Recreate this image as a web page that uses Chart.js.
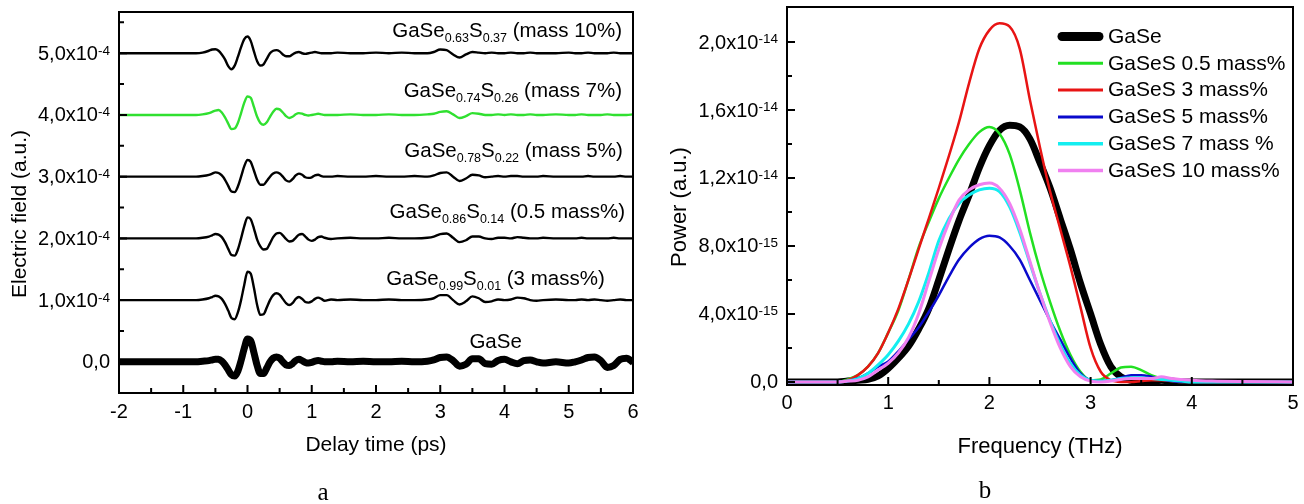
<!DOCTYPE html>
<html>
<head>
<meta charset="utf-8">
<script src="https://cdn.jsdelivr.net/npm/chart.js@4.4.1/dist/chart.umd.min.js"></script>
<style>
  html, body { margin: 0; padding: 0; background: #fff; }
  #wrap { position: relative; width: 1304px; height: 504px; }
  .panel { position: absolute; top: 0; height: 504px; }
  #left { left: 0; width: 650px; }
  #right { left: 650px; width: 654px; }
</style>
</head>
<body>
<div id="wrap">
  <div class="panel" id="left"><canvas id="timeChart" width="650" height="504"></canvas></div>
  <div class="panel" id="right"><canvas id="specChart" width="654" height="504"></canvas></div>
</div>
<script>
// ---------- panel a: time-domain waveforms (values in 1e-4 a.u.) ----------
const T = [-2, -1.5, -1, -0.8, -0.7,
  -0.6, -0.55, -0.5, -0.45, -0.4, -0.35, -0.3, -0.25, -0.2, -0.15, -0.1, -0.05, 0, 0.05, 0.1, 0.15, 0.2, 0.25,
  0.3, 0.35, 0.4, 0.45, 0.5, 0.55, 0.6, 0.65, 0.7, 0.75, 0.8, 0.85, 0.9, 0.95, 1.0, 1.05, 1.1, 1.15, 1.2,
  1.3, 1.4, 1.6, 1.8, 2.0, 2.2, 2.4, 2.6, 2.8,
  2.9, 3.0, 3.1, 3.2, 3.3, 3.4, 3.5, 3.6, 3.7, 3.8, 3.9, 4.0, 4.1, 4.2, 4.3, 4.4, 4.5, 4.6,
  4.8, 5.0,
  5.1, 5.2, 5.3, 5.4, 5.5, 5.6, 5.7, 5.8, 5.9, 6.0];

const gase = [0, 0, 0, 0, 0.01,
  0.02, 0.03, 0.04, 0.04, 0.01, -0.05, -0.13, -0.21, -0.23, -0.15, 0.02, 0.22, 0.37, 0.34, 0.15, -0.06, -0.19, -0.19,
  -0.1, 0.0, 0.06, 0.08, 0.06, 0.0, -0.05, -0.06, -0.03, 0.02, 0.04, 0.02, -0.01, -0.02, -0.01, 0.01, 0.02, 0.01, 0.0,
  0, 0.01, 0, 0.01, 0, 0, 0.01, 0, 0.01,
  0.03, 0.07, 0.08, 0.02, -0.07, -0.04, 0.05, 0.05, -0.03, -0.04, 0.02, 0.04, 0.0, -0.03, 0.02, 0.03, 0.0, -0.02,
  0, -0.02,
  0, 0.03, 0.07, 0.08, 0.02, -0.09, -0.06, 0.04, 0.06, -0.01];

const s3 = [0, 0, 0, 0, 0.01,
  0.03, 0.05, 0.07, 0.06, 0.02, -0.06, -0.17, -0.29, -0.31, -0.2, 0.0, 0.25, 0.46, 0.43, 0.2, -0.08, -0.24, -0.23,
  -0.12, 0.0, 0.08, 0.11, 0.09, 0.02, -0.05, -0.08, -0.05, 0.02, 0.05, 0.02, -0.03, -0.04, -0.02, 0.02, 0.04, 0.02, -0.01,
  0.01, 0, 0.01, 0, 0, 0.01, 0, 0, 0.01,
  0.03, 0.08, 0.08, 0.0, -0.07, -0.02, 0.06, 0.03, -0.03, -0.02, 0.01, 0.0, 0.01, 0.04, 0.03, 0.0, -0.01, 0.0,
  0.01, 0,
  0, 0.01, 0, 0.01, 0, -0.01, 0, 0.01, 0, 0];

const s05 = [0, 0, 0, 0, 0.01,
  0.03, 0.05, 0.07, 0.06, 0.02, -0.06, -0.17, -0.27, -0.28, -0.18, 0.0, 0.2, 0.34, 0.31, 0.16, -0.02, -0.13, -0.18,
  -0.17, -0.08, 0.02, 0.08, 0.09, 0.05, -0.01, -0.05, -0.04, 0.01, 0.06, 0.07, 0.03, -0.02, -0.04, -0.02, 0.02, 0.03, 0.01,
  -0.01, 0, 0.01, 0, 0, 0.01, 0, 0, 0.01,
  0.03, 0.07, 0.08, 0.01, -0.06, -0.03, 0.03, 0.03, 0.0, -0.01, 0.01, 0.01, 0.0, 0.02, 0.01, 0.0, 0.0, 0.01,
  0, 0,
  0, 0.01, 0, 0, 0, 0, 0.01, 0, 0, 0];

const s5 = [0, 0, 0, 0, 0.01,
  0.03, 0.05, 0.07, 0.06, 0.02, -0.05, -0.15, -0.24, -0.25, -0.16, 0.0, 0.17, 0.27, 0.24, 0.1, -0.05, -0.13, -0.13,
  -0.07, 0.0, 0.05, 0.07, 0.05, 0.0, -0.06, -0.08, -0.04, 0.02, 0.05, 0.03, -0.01, -0.02, -0.01, 0.02, 0.03, 0.01, 0.0,
  0, 0.01, 0, 0, 0.01, 0, 0, 0.01, 0,
  0.02, 0.06, 0.07, 0.0, -0.07, -0.03, 0.03, 0.02, -0.01, 0.0, 0.01, 0.0, 0.01, 0.01, 0.0, 0.0, 0.0, 0.01,
  0, 0,
  0, 0, 0.01, 0, 0, 0, 0, 0.01, 0, 0];

const s7 = [0, 0, 0, 0, 0.01,
  0.03, 0.05, 0.07, 0.08, 0.04, -0.04, -0.14, -0.23, -0.22, -0.13, 0.03, 0.2, 0.3, 0.28, 0.13, -0.03, -0.13, -0.16,
  -0.12, -0.03, 0.05, 0.1, 0.09, 0.04, -0.02, -0.05, -0.03, 0.01, 0.03, 0.02, 0.0, -0.01, 0.0, 0.01, 0.02, 0.01, 0.0,
  0, 0, 0.01, 0, 0, 0.01, 0, 0, 0.01,
  0.02, 0.05, 0.06, 0.01, -0.05, -0.02, 0.03, 0.02, 0.0, 0.0, 0.01, 0.0, 0.01, 0.0, 0.0, 0.01, 0.0, 0.0,
  0.01, 0,
  0, 0.01, 0, 0, 0, 0.01, 0, 0, 0, 0.01];

const s10 = [0, 0, 0, 0, 0.01,
  0.04, 0.06, 0.065, 0.04, -0.02, -0.1, -0.21, -0.26, -0.2, -0.06, 0.1, 0.23, 0.27, 0.2, 0.03, -0.13, -0.2, -0.18,
  -0.09, 0.0, 0.04, 0.05, 0.03, -0.02, -0.05, -0.05, -0.02, 0.01, 0.02, 0.0, -0.01, 0.0, 0.01, 0.02, 0.01, 0.0, 0.0,
  0, 0.01, 0, 0, 0.01, 0, 0.01, 0, 0,
  0.02, 0.06, 0.05, -0.02, -0.07, -0.02, 0.02, 0.01, 0.0, 0.01, 0.0, 0.0, 0.01, 0.0, 0.0, 0.01, 0.0, 0.0,
  0, 0.01,
  0, 0, 0.01, 0, 0, 0, 0.01, 0, 0, 0];

const offsets = [0, 1, 2, 3, 4, 5]; // vertical shift of each trace, 1e-4
const traceNames = [
  'GaSe',
  'GaSe_{0.99}S_{0.01} (3 mass%)',
  'GaSe_{0.86}S_{0.14} (0.5 mass%)',
  'GaSe_{0.78}S_{0.22} (mass 5%)',
  'GaSe_{0.74}S_{0.26} (mass 7%)',
  'GaSe_{0.63}S_{0.37} (mass 10%)'
];
// where each label ends (ps) and its baseline (1e-4)
const nameEndX = [4.27, 5.56, 5.875, 5.84, 5.83, 5.83];
const nameBaseY = [0.22, 1.25, 2.33, 3.32, 4.29, 5.26];

const timeXTicks = [-2, -1, 0, 1, 2, 3, 4, 5, 6];
const timeXMinor = [-1.5, -0.5, 0.5, 1.5, 2.5, 3.5, 4.5, 5.5];
const timeYTicks = [0, 1e-4, 2e-4, 3e-4, 4e-4, 5e-4];
const timeYMinor = [0.5e-4, 1.5e-4, 2.5e-4, 3.5e-4, 4.5e-4, 5.5e-4];
const timeYText = [['0,0', ''], ['1,0x10', '-4'], ['2,0x10', '-4'], ['3,0x10', '-4'], ['4,0x10', '-4'], ['5,0x10', '-4']];

// ---------- panel b: power spectra (values in 1e-15 a.u.) ----------
const F = [0, 0.2, 0.4,
  0.5, 0.6, 0.7, 0.8, 0.9, 1.0, 1.1, 1.2, 1.3, 1.4, 1.5, 1.6, 1.7, 1.8, 1.9, 2.0, 2.1, 2.2,
  2.3, 2.4, 2.5, 2.6, 2.7, 2.8, 2.9, 3.0, 3.1, 3.2, 3.3, 3.4, 3.5, 3.6, 3.7, 3.8, 3.9, 4.0,
  4.2, 4.5, 5.0];

const pGaSe = [0, 0, 0,
  0, 0.05, 0.1, 0.15, 0.35, 0.8, 1.4, 2.1, 3.1, 4.3, 6.0, 7.8, 9.5, 11.0, 12.6, 13.9, 14.8, 15.1,
  15.0, 14.3, 12.9, 11.4, 9.6, 7.8, 5.8, 4.0, 2.2, 0.9, 0.3, 0.1, 0.05, 0.05, 0.1, 0.05, 0, 0,
  0, 0, 0];
const p05 = [0, 0, 0,
  0, 0.15, 0.4, 0.9, 1.7, 2.9, 4.2, 6.0, 7.9, 9.4, 10.8, 12.0, 13.1, 14.0, 14.7, 15.0, 14.6, 13.4,
  11.3, 8.8, 6.6, 4.7, 3.0, 1.6, 0.6, 0.1, 0.15, 0.5, 0.85, 0.9, 0.7, 0.4, 0.2, 0.05, 0, 0,
  0, 0, 0];
const p3 = [0, 0, 0,
  0, 0.1, 0.4, 0.9, 1.7, 2.9, 4.3, 6.0, 7.8, 9.6, 11.4, 13.3, 15.3, 17.6, 19.6, 20.7, 21.1, 20.9,
  19.6, 16.6, 13.8, 11.2, 9.0, 6.8, 4.4, 2.0, 0.6, 0.1, 0, 0, 0.05, 0.1, 0.1, 0.05, 0, 0,
  0, 0, 0];
const p5 = [0, 0, 0,
  0, 0.05, 0.2, 0.5, 0.9, 1.2, 1.8, 2.5, 3.2, 4.1, 5.1, 6.2, 7.2, 7.9, 8.4, 8.6, 8.5, 8.0,
  7.2, 6.0, 4.8, 3.6, 2.5, 1.4, 0.5, 0.1, 0.05, 0.1, 0.25, 0.4, 0.4, 0.3, 0.15, 0.05, 0, 0,
  0, 0, 0];
const p7 = [0, 0, 0,
  0, 0.05, 0.2, 0.5, 1.0, 1.6, 2.4, 3.4, 4.7, 6.4, 8.3, 9.6, 10.5, 11.0, 11.3, 11.4, 11.2, 10.3,
  8.8, 7.0, 5.2, 3.6, 2.2, 1.1, 0.4, 0.1, 0.05, 0.1, 0.2, 0.25, 0.25, 0.2, 0.15, 0.1, 0.05, 0,
  0, 0, 0];
const p10 = [0, 0, 0,
  0, 0.05, 0.1, 0.3, 0.7, 1.1, 1.7, 2.6, 4.0, 5.9, 7.8, 9.4, 10.7, 11.3, 11.6, 11.7, 11.4, 10.5,
  9.0, 7.1, 5.2, 3.5, 2.0, 0.9, 0.3, 0.05, 0, 0.05, 0.15, 0.2, 0.2, 0.2, 0.3, 0.2, 0.15, 0.1,
  0.05, 0.02, 0];

const specSeries = [pGaSe, p05, p3, p5, p7, p10];
const specNames = ['GaSe', 'GaSeS 0.5 mass%', 'GaSeS 3 mass%', 'GaSeS 5 mass%', 'GaSeS 7 mass %', 'GaSeS 10 mass%'];
const specColors = ['#000000', '#22e022', '#e81414', '#0a0acc', '#14eef0', '#f080f0'];
const specWidths = [7, 2.5, 2.5, 2.5, 3, 3];

const specXTicks = [0, 1, 2, 3, 4, 5];
const specXMinor = [0.5, 1.5, 2.5, 3.5, 4.5];
const specYTicks = [0, 4e-15, 8e-15, 1.2e-14, 1.6e-14, 2.0e-14];
const specYMinor = [2e-15, 6e-15, 1e-14, 1.4e-14, 1.8e-14];
const specYText = [['0,0', ''], ['4,0x10', '-15'], ['8,0x10', '-15'], ['1,2x10', '-14'], ['1,6x10', '-14'], ['2,0x10', '-14']];

const SANS = '"Liberation Sans", Arial, Helvetica, sans-serif';

// draw text with _{...} subscripts, right-aligned at xr
function drawSubText(ctx, str, xr, base, size, subSize) {
  const parts = str.split(/(_\{[^}]*\})/).filter(s => s.length);
  const pieces = parts.map(p => {
    const sub = p.startsWith('_{');
    const txt = sub ? p.slice(2, -1) : p;
    ctx.font = (sub ? subSize : size) + 'px ' + SANS;
    return { txt, sub, w: ctx.measureText(txt).width };
  });
  let x = xr - pieces.reduce((s, p) => s + p.w, 0);
  ctx.textAlign = 'left';
  ctx.textBaseline = 'alphabetic';
  pieces.forEach(p => {
    ctx.font = (p.sub ? subSize : size) + 'px ' + SANS;
    ctx.fillText(p.txt, x, p.sub ? base + 5 : base);
    x += p.w;
  });
}

// frame, inward ticks, labels and titles (Origin style)
const frameAxes = {
  id: 'frameAxes',
  afterDatasetsDraw(chart, args, o) {
    const { ctx, chartArea: a } = chart;
    const xs = chart.scales.x, ys = chart.scales.y;
    ctx.save();
    ctx.strokeStyle = '#000';
    ctx.fillStyle = '#000';
    ctx.lineWidth = 2;
    ctx.strokeRect(a.left, a.top, a.right - a.left, a.bottom - a.top);

    ctx.beginPath();
    o.xMajor.forEach(v => { const p = xs.getPixelForValue(v); ctx.moveTo(p, a.bottom); ctx.lineTo(p, a.bottom - 8); });
    o.xMinor.forEach(v => { const p = xs.getPixelForValue(v); ctx.moveTo(p, a.bottom); ctx.lineTo(p, a.bottom - 5); });
    o.yMajor.forEach(v => { const p = ys.getPixelForValue(v); ctx.moveTo(a.left, p); ctx.lineTo(a.left + 8, p); });
    o.yMinor.forEach(v => { const p = ys.getPixelForValue(v); ctx.moveTo(a.left, p); ctx.lineTo(a.left + 5, p); });
    ctx.stroke();

    // x tick labels
    ctx.font = o.tickSize + 'px ' + SANS;
    ctx.textAlign = 'center';
    ctx.textBaseline = 'middle';
    o.xMajor.forEach(v => ctx.fillText(String(v), xs.getPixelForValue(v), a.bottom + o.xLabelGap));

    // y tick labels with superscript exponent
    const right = a.left - 9;
    o.yMajor.forEach((v, i) => {
      const [base, sup] = o.yText[i];
      const p = ys.getPixelForValue(v);
      ctx.font = '13.5px ' + SANS;
      const ws = sup ? ctx.measureText(sup).width : 0;
      ctx.font = o.tickSize + 'px ' + SANS;
      const wb = ctx.measureText(base).width;
      ctx.textAlign = 'left';
      ctx.textBaseline = 'middle';
      ctx.fillText(base, right - ws - wb, p + 1);
      if (sup) {
        ctx.font = '13.5px ' + SANS;
        ctx.textBaseline = 'top';
        ctx.fillText(sup, right - ws, p - 9);
      }
    });

    // axis titles
    ctx.font = o.titleSize + 'px ' + SANS;
    ctx.textAlign = 'center';
    ctx.textBaseline = 'middle';
    ctx.fillText(o.xTitle, (a.left + a.right) / 2, a.bottom + o.xTitleGap);
    ctx.save();
    ctx.translate(o.yTitlePos[0], o.yTitlePos[1]);
    ctx.rotate(-Math.PI / 2);
    ctx.fillText(o.yTitle, 0, 0);
    ctx.restore();

    // panel letter
    ctx.font = '25px "Liberation Serif", "Times New Roman", serif';
    ctx.fillText(o.letter[0], o.letter[1], o.letter[2]);
    ctx.restore();
  }
};

// trace names on panel a
const traceLabels = {
  id: 'traceLabels',
  afterDatasetsDraw(chart) {
    const { ctx } = chart;
    const xs = chart.scales.x, ys = chart.scales.y;
    ctx.save();
    ctx.fillStyle = '#000';
    traceNames.forEach((name, i) => {
      drawSubText(ctx, name, xs.getPixelForValue(nameEndX[i]), ys.getPixelForValue(nameBaseY[i] * 1e-4), 20.5, 12.5);
    });
    ctx.restore();
  }
};

// legend inside panel b
const specLegend = {
  id: 'specLegend',
  afterDatasetsDraw(chart) {
    const { ctx, chartArea: a } = chart;
    ctx.save();
    const x0 = a.left + 271, x1 = a.left + 316, row = 26.8, y0 = a.top + 29.5;
    specNames.forEach((name, i) => {
      const y = y0 + i * row;
      ctx.strokeStyle = specColors[i];
      ctx.lineWidth = specWidths[i] + (i === 0 ? 2 : 0.5);
      ctx.lineCap = i === 0 ? 'round' : 'butt';
      ctx.beginPath();
      ctx.moveTo(x0 + (i === 0 ? 4 : 0), y);
      ctx.lineTo(x1 - (i === 0 ? 4 : 0), y);
      ctx.stroke();
      ctx.fillStyle = '#000';
      ctx.font = '21px ' + SANS;
      ctx.textAlign = 'left';
      ctx.textBaseline = 'middle';
      ctx.fillText(name, x1 + 5, y + 0.5);
    });
    ctx.restore();
  }
};

new Chart(document.getElementById('timeChart'), {
  type: 'line',
  data: {
    datasets: [gase, s3, s05, s5, s7, s10].map((vals, k) => ({
      label: traceNames[k],
      data: T.map((t, i) => ({ x: t, y: (offsets[k] + vals[i]) * 1e-4 })),
      borderColor: k === 4 ? '#30e030' : '#000000',
      borderWidth: k === 0 ? 7 : 2.4,
      pointRadius: 0,
      cubicInterpolationMode: 'monotone',
      fill: false
    }))
  },
  options: {
    responsive: false,
    animation: false,
    layout: { padding: { left: 119, right: 17, top: 12, bottom: 111 } },
    scales: {
      x: { type: 'linear', min: -2, max: 6, display: false },
      y: { type: 'linear', min: -0.505e-4, max: 5.668e-4, display: false }
    },
    plugins: {
      legend: { display: false },
      tooltip: { enabled: false },
      frameAxes: {
        xMajor: timeXTicks, xMinor: timeXMinor, yMajor: timeYTicks, yMinor: timeYMinor, yText: timeYText,
        tickSize: 20, titleSize: 21, xLabelGap: 19, xTitleGap: 52,
        xTitle: 'Delay time (ps)', yTitle: 'Electric field (a.u.)', yTitlePos: [20, 214],
        letter: ['a', 323, 493]
      }
    }
  },
  plugins: [frameAxes, traceLabels]
});

new Chart(document.getElementById('specChart'), {
  type: 'line',
  data: {
    datasets: specSeries.map((vals, k) => ({
      label: specNames[k],
      data: F.map((f, i) => ({ x: f, y: vals[i] * 1e-15 })),
      borderColor: specColors[k],
      borderWidth: specWidths[k],
      pointRadius: 0,
      cubicInterpolationMode: 'monotone',
      fill: false,
      order: specSeries.length - k
    }))
  },
  options: {
    responsive: false,
    animation: false,
    layout: { padding: { left: 137, right: 11, top: 7, bottom: 119 } },
    scales: {
      x: { type: 'linear', min: 0, max: 5, display: false },
      y: { type: 'linear', min: -0.18e-15, max: 22.06e-15, display: false }
    },
    plugins: {
      legend: { display: false },
      tooltip: { enabled: false },
      frameAxes: {
        xMajor: specXTicks, xMinor: specXMinor, yMajor: specYTicks, yMinor: specYMinor, yText: specYText,
        tickSize: 20, titleSize: 22, xLabelGap: 18, xTitleGap: 62,
        xTitle: 'Frequency (THz)', yTitle: 'Power (a.u.)', yTitlePos: [30, 207],
        letter: ['b', 335, 491]
      }
    }
  },
  plugins: [frameAxes, specLegend]
});
</script>
</body>
</html>
